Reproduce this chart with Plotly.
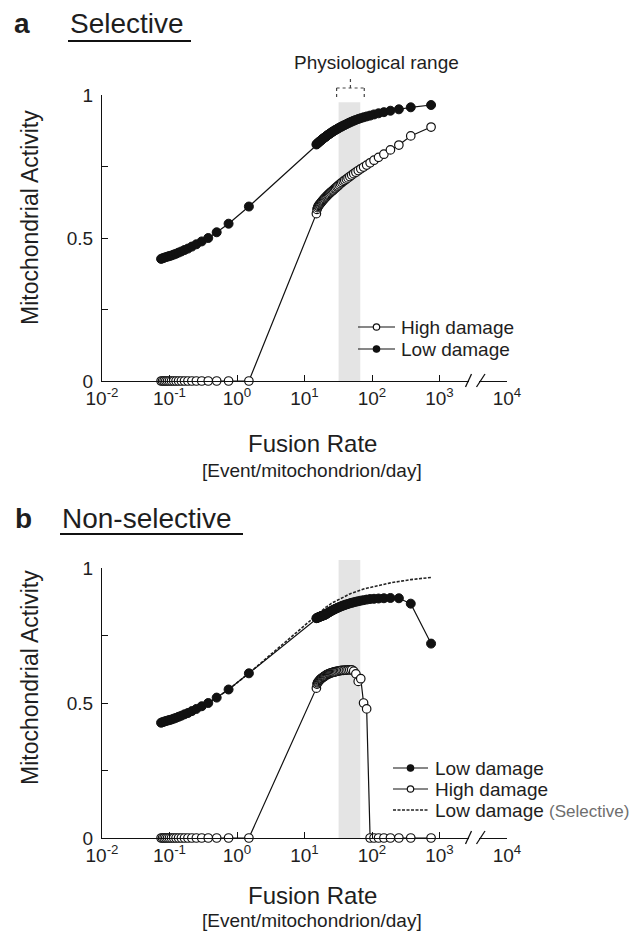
import math
import plotly.graph_objects as go

W, H = 635, 933

# ---------------- data ----------------
fusion_low = [0.075, 0.0789, 0.0833, 0.0882, 0.0938, 0.1, 0.1071, 0.1154, 0.125, 0.1364,
              0.15, 0.1667, 0.1875, 0.2143, 0.25, 0.3, 0.375, 0.5, 0.75, 1.5]
fusion_high = [15, 15.31, 15.63, 15.96, 16.30, 16.67, 17.05, 17.44, 17.86, 18.29,
               18.75, 19.23, 19.74, 20.27, 20.83, 21.43, 22.06, 22.73, 23.44, 24.19,
               25, 25.86, 26.79, 27.78, 28.85, 30, 31.25, 32.61, 34.09, 35.71,
               37.5, 39.47, 41.67, 44.12, 46.88, 50, 53.57, 57.69, 62.5, 68.18,
               75, 83.33, 93.75, 107.1, 125, 150, 187.5, 250, 375, 750]
fusion = fusion_low + fusion_high

low_dmg_lowrate = [0.427, 0.429, 0.431, 0.433, 0.435, 0.437, 0.439, 0.442, 0.445, 0.449,
                   0.453, 0.458, 0.463, 0.470, 0.478, 0.488, 0.500, 0.520, 0.550, 0.610]
zeros_lowrate = [0] * 20

sel_low_highrate = [0.827, 0.829, 0.831, 0.833, 0.835, 0.837, 0.839, 0.841, 0.843, 0.845,
                    0.847, 0.849, 0.851, 0.853, 0.855, 0.857, 0.860, 0.862, 0.864, 0.866,
                    0.869, 0.871, 0.873, 0.876, 0.878, 0.880, 0.883, 0.885, 0.888, 0.890,
                    0.893, 0.895, 0.898, 0.901, 0.904, 0.907, 0.910, 0.913, 0.916, 0.919,
                    0.922, 0.925, 0.928, 0.932, 0.936, 0.940, 0.945, 0.950, 0.957, 0.965]
sel_high_highrate = [0.585, 0.600, 0.606, 0.611, 0.614, 0.617, 0.620, 0.623, 0.626, 0.629,
                     0.632, 0.635, 0.638, 0.641, 0.644, 0.647, 0.650, 0.653, 0.656, 0.659,
                     0.662, 0.665, 0.668, 0.672, 0.675, 0.679, 0.682, 0.686, 0.690, 0.694,
                     0.698, 0.702, 0.706, 0.710, 0.715, 0.720, 0.725, 0.730, 0.736, 0.742,
                     0.748, 0.755, 0.763, 0.772, 0.782, 0.793, 0.808, 0.825, 0.857, 0.888]
non_low_highrate = [0.814, 0.815, 0.816, 0.817, 0.818, 0.819, 0.820, 0.821, 0.822, 0.823,
                    0.824, 0.825, 0.826, 0.827, 0.829, 0.831, 0.833, 0.835, 0.837, 0.839,
                    0.841, 0.843, 0.845, 0.847, 0.849, 0.851, 0.853, 0.855, 0.857, 0.859,
                    0.861, 0.863, 0.865, 0.867, 0.869, 0.871, 0.873, 0.875, 0.877, 0.879,
                    0.881, 0.883, 0.885, 0.886, 0.887, 0.888, 0.889, 0.888, 0.868, 0.720]
non_high_highrate = [0.555, 0.570, 0.575, 0.578, 0.581, 0.584, 0.587, 0.589, 0.591, 0.593,
                     0.595, 0.597, 0.599, 0.601, 0.603, 0.605, 0.606, 0.608, 0.609, 0.611,
                     0.612, 0.613, 0.614, 0.615, 0.616, 0.617, 0.618, 0.619, 0.620, 0.621,
                     0.621, 0.622, 0.622, 0.623, 0.623, 0.623, 0.618, 0.608, 0.580, 0.590,
                     0.500, 0.478, 0, 0, 0, 0, 0, 0, 0, 0]

sel_low = low_dmg_lowrate + sel_low_highrate
sel_high = zeros_lowrate + sel_high_highrate
non_low = low_dmg_lowrate + non_low_highrate
non_high = zeros_lowrate + non_high_highrate

physio_range = [32, 67]          # fusion-rate band
band_top = {"a": 0.975, "b": 1.03}

x_tickvals = [0.01, 0.1, 1, 10, 100, 1000, 10000]
x_ticktext = ["10<sup>-2</sup>", "10<sup>-1</sup>", "10<sup>0</sup>", "10<sup>1</sup>",
              "10<sup>2</sup>", "10<sup>3</sup>", "10<sup>4</sup>"]
y_tickvals = [0, 0.5, 1]
y_ticktext = ["0", "0.5", "1"]
y_minorvals = [0.25, 0.75]

# ---------------- layout geometry ----------------
FONT = "Liberation Sans, Arial, sans-serif"
TXT = "#1e1e1e"
XD = [102 / W, 507 / W]
YA = [1 - 381 / H, 1 - 95 / H]
YB = [1 - 838 / H, 1 - 568 / H]

fig = go.Figure()

line_style = dict(color="#111", width=1.2)
dash_style = dict(color="#222", width=1.6, dash="3px,1.5px")
filled = dict(symbol="circle", size=9, color="#111", line=dict(color="#111", width=1))
hollow = dict(symbol="circle", size=8.5, color="white", line=dict(color="#111", width=1.2))

# panel a
fig.add_trace(go.Scatter(x=fusion, y=sel_low, mode="lines+markers", line=line_style,
                         marker=filled, xaxis="x", yaxis="y", cliponaxis=False, name="Low damage"))
fig.add_trace(go.Scatter(x=fusion, y=sel_high, mode="lines+markers", line=line_style,
                         marker=hollow, xaxis="x", yaxis="y", cliponaxis=False, name="High damage"))
# panel b
fig.add_trace(go.Scatter(x=fusion, y=sel_low, mode="lines", line=dash_style,
                         xaxis="x2", yaxis="y2", cliponaxis=False, name="Low damage (Selective)"))
fig.add_trace(go.Scatter(x=fusion, y=non_low, mode="lines+markers", line=line_style,
                         marker=filled, xaxis="x2", yaxis="y2", cliponaxis=False, name="Low damage"))
fig.add_trace(go.Scatter(x=fusion, y=non_high, mode="lines+markers", line=line_style,
                         marker=hollow, xaxis="x2", yaxis="y2", cliponaxis=False, name="High damage"))

xcommon = dict(type="log", range=[-2, 4], tickvals=x_tickvals, ticktext=x_ticktext,
               ticks="inside", ticklen=6, tickwidth=1.3, tickcolor="#111", automargin=False,
               showline=True, linecolor="#111", linewidth=1.3, showgrid=False, zeroline=False,
               tickfont=dict(size=19, family=FONT, color=TXT), domain=XD)
ycommon = dict(range=[0, 1], tickvals=y_tickvals, ticktext=y_ticktext, automargin=False,
               ticks="inside", ticklen=6, tickwidth=1.3, tickcolor="#111", ticklabelstandoff=4,
               minor=dict(tickvals=y_minorvals, ticks="inside", ticklen=6, tickwidth=1.3,
                          tickcolor="#111", showgrid=False),
               showline=True, linecolor="#111", linewidth=1.3, showgrid=False, zeroline=False,
               tickfont=dict(size=19, family=FONT, color=TXT))

fig.update_layout(
    template="none",
    width=W, height=H, margin=dict(l=0, r=0, t=0, b=0, pad=0), autosize=False,
    paper_bgcolor="white", plot_bgcolor="rgba(0,0,0,0)", showlegend=False,
    font=dict(family=FONT, color=TXT),
    xaxis=dict(**xcommon, anchor="y"),
    yaxis=dict(**ycommon, domain=YA, anchor="x"),
    xaxis2=dict(**xcommon, anchor="y2"),
    yaxis2=dict(**ycommon, domain=YB, anchor="x2"),
)


def px_x(v):
    return XD[0] + (math.log10(v) + 2) / 6 * (XD[1] - XD[0])


def px_y(v, dom):
    return dom[0] + v * (dom[1] - dom[0])


shapes = []
# physiological band
for dom, top in ((YA, band_top["a"]), (YB, band_top["b"])):
    shapes.append(dict(type="rect", xref="paper", yref="paper",
                       x0=px_x(physio_range[0]), x1=px_x(physio_range[1]),
                       y0=dom[0], y1=px_y(top, dom),
                       fillcolor="#e4e4e4", line=dict(width=0), layer="below"))

# bracket above band (panel a)
bx0, bx1 = px_x(physio_range[0]) - 2 / W, px_x(physio_range[1]) + 4 / W
bxm = (bx0 + bx1) / 2
by_bot, by_top, by_stem = 1 - 100 / H, 1 - 88 / H, 1 - 77 / H
dot = dict(color="#444", width=1.2, dash="dot")
shapes += [
    dict(type="line", xref="paper", yref="paper", x0=bx0, x1=bx1, y0=by_top, y1=by_top, line=dot),
    dict(type="line", xref="paper", yref="paper", x0=bx0, x1=bx0, y0=by_top, y1=by_bot, line=dot),
    dict(type="line", xref="paper", yref="paper", x0=bx1, x1=bx1, y0=by_top, y1=by_bot, line=dot),
    dict(type="line", xref="paper", yref="paper", x0=bxm, x1=bxm, y0=by_top, y1=by_stem, line=dot),
]

# axis break marks
for base in (381, 838):
    shapes.append(dict(type="rect", xref="paper", yref="paper", x0=469 / W, x1=479 / W,
                       y0=1 - (base + 2) / H, y1=1 - (base - 2) / H,
                       fillcolor="white", line=dict(width=0), layer="above"))
    for xa, xb in ((465.5, 471.5), (476.5, 485)):
        shapes.append(dict(type="line", xref="paper", yref="paper",
                           x0=xa / W, x1=xb / W, y0=1 - (base + 6) / H, y1=1 - (base - 7) / H,
                           line=dict(color="#111", width=1.3)))

# title underlines
shapes.append(dict(type="line", xref="paper", yref="paper", x0=68 / W, x1=191 / W,
                   y0=1 - 41 / H, y1=1 - 41 / H, line=dict(color="#111", width=2)))
shapes.append(dict(type="line", xref="paper", yref="paper", x0=60 / W, x1=243 / W,
                   y0=1 - 534 / H, y1=1 - 534 / H, line=dict(color="#111", width=2)))


# manual legends (line + marker glyph)
def legend_glyph(xl, xr, y, kind):
    out = []
    if kind == "dash":
        out.append(dict(type="line", xref="paper", yref="paper", x0=xl / W, x1=xr / W,
                        y0=1 - y / H, y1=1 - y / H, line=dash_style))
        return out
    out.append(dict(type="line", xref="paper", yref="paper", x0=xl / W, x1=xr / W,
                    y0=1 - y / H, y1=1 - y / H, line=dict(color="#111", width=1.2)))
    xc, r = (xl + xr) / 2, 3.2
    out.append(dict(type="circle", xref="paper", yref="paper",
                    x0=(xc - r) / W, x1=(xc + r) / W, y0=1 - (y + r) / H, y1=1 - (y - r) / H,
                    fillcolor="#111" if kind == "filled" else "white",
                    line=dict(color="#111", width=1.2)))
    return out


legend_a = [("High damage", "hollow", 327), ("Low damage", "filled", 349)]
legend_b = [("Low damage", "filled", 768), ("High damage", "hollow", 789),
            ("Low damage <span style='font-size:17px;color:#6e6e6e'>(Selective)</span>", "dash", 810)]

for _, kind, y in legend_a:
    shapes += legend_glyph(358, 395, y, kind)
for _, kind, y in legend_b:
    shapes += legend_glyph(393, 428, y, kind)

fig.update_layout(shapes=shapes)


def ann(text, x, y, size, xanchor="center", **kw):
    d = dict(text=text, x=x / W, y=1 - y / H, xref="paper", yref="paper", showarrow=False,
             xanchor=xanchor, yanchor="middle",
             font=dict(size=size, family=FONT, color=kw.pop("color", TXT)))
    d.update(kw)
    return d


annotations = [
    ann("<b>a</b>", 22, 24, 28),
    ann("Selective", 68, 24, 28, xanchor="left"),
    ann("<b>b</b>", 23, 518, 28),
    ann("Non-selective", 60, 518, 28, xanchor="left"),
    ann("Physiological range", 376, 63, 19),
    ann("Mitochondrial Activity", 30, 218, 23, textangle=-90),
    ann("Mitochondrial Activity", 30, 678, 23, textangle=-90),
    ann("Fusion Rate", 312, 443, 24),
    ann("[Event/mitochondrion/day]", 312, 470, 19),
    ann("Fusion Rate", 312, 895, 24),
    ann("[Event/mitochondrion/day]", 312, 920, 19),
]
for text, _, y in legend_a:
    annotations.append(ann(text, 399, y, 19, xanchor="left"))
for text, _, y in legend_b:
    annotations.append(ann(text, 433, y, 19, xanchor="left"))

fig.update_layout(annotations=annotations)

fig.write_html("out.html", config={"displayModeBar": False},
               post_script="document.body.style.margin='0px';document.body.style.overflow='hidden';")
